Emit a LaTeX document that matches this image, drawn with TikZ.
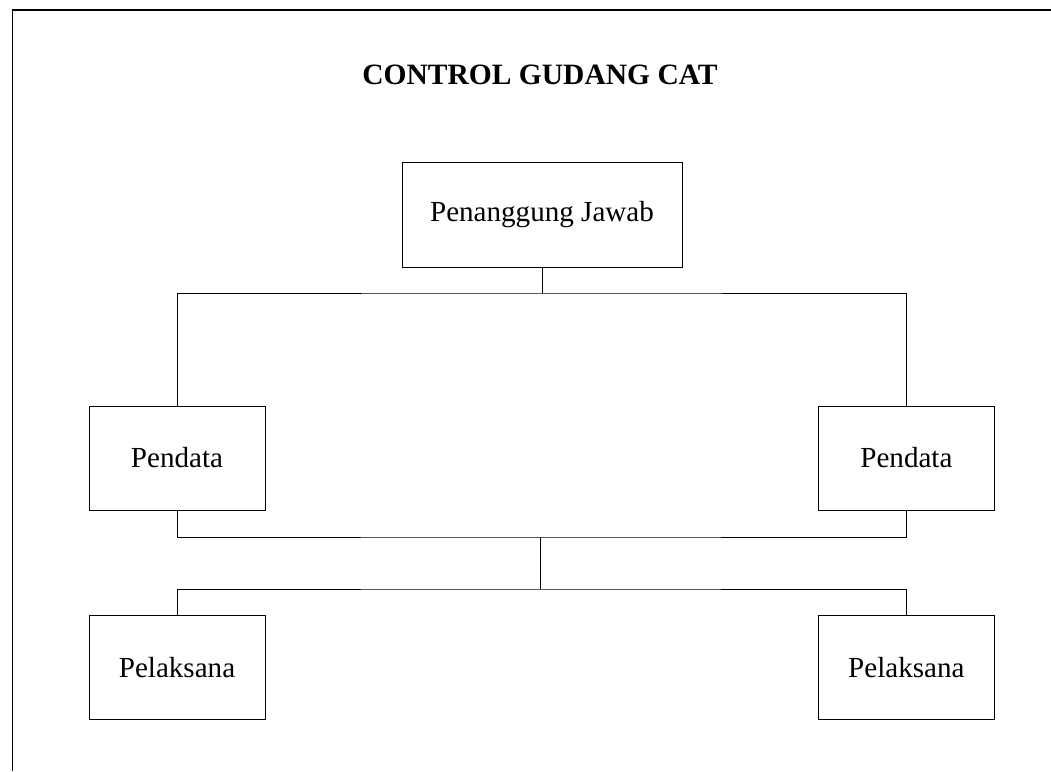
\documentclass[tikz,border=0pt]{standalone}
\usepackage{fontspec}
\setmainfont{Liberation Serif}
\usepackage{tikz}

\begin{document}
\begin{tikzpicture}[
	kotak/.style={draw,line width=0.7pt,minimum width=#1,minimum height=2.6cm,inner sep=0pt,font=\fontsize{20.7}{25}\selectfont},
	kotak/.default=4.4cm,
	garis/.style={line width=0.7pt}
	]
	\useasboundingbox (0,0) rectangle (26.275,19.275);
	\draw[line width=0.8pt] (0.3125,0) -- (0.3125,19.025) -- (26.275,19.025);
	
	\node[font=\fontsize{21}{25}\selectfont\bfseries] (judul) at (13.5,17.4) {CONTROL GUDANG CAT};
	
	\node[kotak=7cm,minimum height=2.625cm] (pj) at (13.55,13.9125) {Penanggung Jawab};
	
	\node[kotak] (pd1) at (4.425,7.825) {Pendata};
	\node[kotak] (pd2) at (22.66,7.825) {Pendata};
	
	\node[kotak] (pl1) at (4.425,2.5875) {Pelaksana};
	\node[kotak] (pl2) at (22.66,2.5875) {Pelaksana};
	
	\coordinate (a) at (13.55,11.95);
	\coordinate (b) at (13.5,5.85);
	\coordinate (c) at (13.5,4.55);
	
	\draw[garis] (pj.south) -- (a);
	\draw[garis] (pd1.north) |- (a) -| (pd2.north);
	\draw[garis] (pd1.south) |- (b) -| (pd2.south);
	\draw[garis] (b) -- (c);
	\draw[garis] (pl1.north) |- (c) -| (pl2.north);
\end{tikzpicture}
\end{document}
